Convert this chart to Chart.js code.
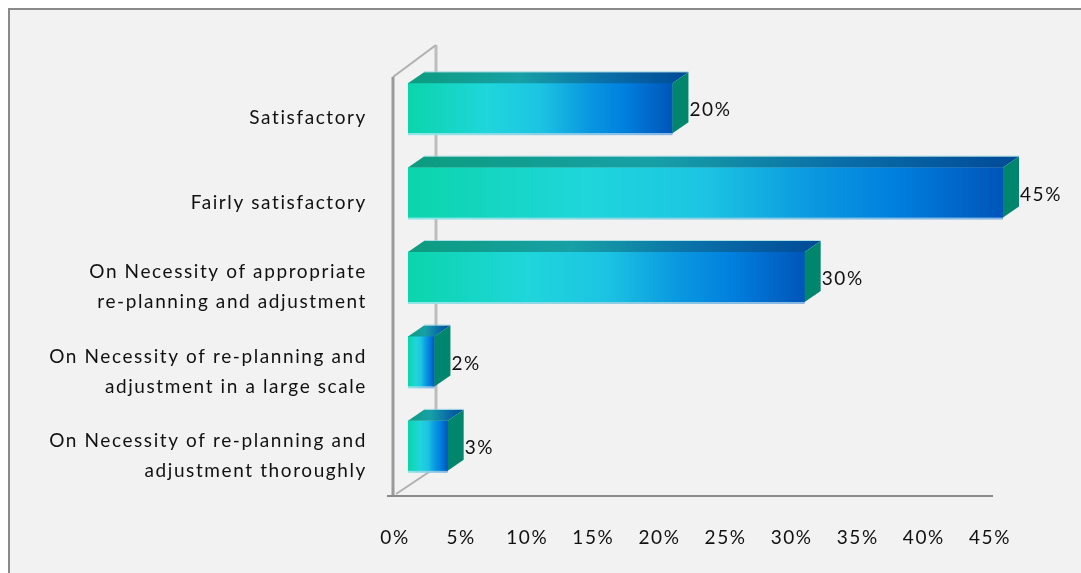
<!DOCTYPE html>
<html>
<head>
<meta charset="utf-8">
<script src="https://cdn.jsdelivr.net/npm/chart.js@4.4.1/dist/chart.umd.min.js"></script>
<style>
    html, body { margin: 0; padding: 0; background: #ffffff; }
    #wrap { position: relative; width: 1081px; height: 573px; }
</style>
</head>
<body>
<div id="wrap"><canvas id="chart"></canvas></div>
<script>
const categories = [
    'Satisfactory',
    'Fairly satisfactory',
    ['On Necessity of appropriate', 're-planning and adjustment'],
    ['On Necessity of re-planning and', 'adjustment in a large scale'],
    ['On Necessity of re-planning and', 'adjustment thoroughly']
];
const shares = [20, 45, 30, 2, 3];
const tickValues = [0, 5, 10, 15, 20, 25, 30, 35, 40, 45];

const FONT = 'Lato';
const SPACING = '1.6px';
const DEPTH_X = 16;
const DEPTH_Y = -11;

function frontGradient(ctx, x0, x1) {
    const g = ctx.createLinearGradient(x0, 0, x1, 0);
    g.addColorStop(0, '#0bd5ab');
    g.addColorStop(0.3, '#1fd6db');
    g.addColorStop(0.5, '#1cc4e2');
    g.addColorStop(0.68, '#0a98e0');
    g.addColorStop(0.82, '#007fde');
    g.addColorStop(1, '#0055b9');
    return g;
}

function topGradient(ctx, x0, x1) {
    const g = ctx.createLinearGradient(x0, 0, x1, 0);
    g.addColorStop(0, '#0c9c7f');
    g.addColorStop(0.4, '#17a0a6');
    g.addColorStop(0.7, '#0a6fa8');
    g.addColorStop(1, '#004a97');
    return g;
}

// back wall, floor and the frame lines of the 3d box
const framePlugin = {
    id: 'frame',
    beforeDraw(chart) {
        const ctx = chart.ctx;
        ctx.letterSpacing = SPACING;
        ctx.save();
        ctx.fillStyle = '#ffffff';
        ctx.fillRect(0, 0, chart.width, chart.height);
        ctx.fillStyle = '#f2f2f2';
        ctx.fillRect(10, 10, chart.width, chart.height);
        ctx.strokeStyle = '#8a8a8a';
        ctx.lineWidth = 2;
        ctx.beginPath();
        ctx.moveTo(9, chart.height + 5);
        ctx.lineTo(9, 9);
        ctx.lineTo(chart.width + 5, 9);
        ctx.stroke();
        ctx.restore();
    },
    beforeDatasetsDraw(chart) {
        const ctx = chart.ctx;
        const a = chart.chartArea;
        const fx = a.left - 15, bx = a.left + 28;
        const fTop = a.top + 11, bTop = a.top - 21;
        const floorY = a.bottom + 8, bBottom = a.bottom - 18;
        ctx.save();
        ctx.lineCap = 'butt';
        // back wall edge
        ctx.strokeStyle = '#bdbdbd';
        ctx.lineWidth = 3;
        ctx.beginPath();
        ctx.moveTo(bx, bTop);
        ctx.lineTo(bx, bBottom);
        ctx.stroke();
        // diagonals
        ctx.strokeStyle = '#b0b0b0';
        ctx.lineWidth = 2;
        ctx.beginPath();
        ctx.moveTo(fx, fTop);
        ctx.lineTo(bx, bTop);
        ctx.moveTo(fx + 3, floorY - 2);
        ctx.lineTo(bx - 4, bBottom);
        ctx.stroke();
        // front wall edge and floor
        ctx.strokeStyle = '#9a9a9a';
        ctx.lineWidth = 3;
        ctx.beginPath();
        ctx.moveTo(fx, fTop);
        ctx.lineTo(fx, floorY);
        ctx.stroke();
        ctx.strokeStyle = '#8a8a8a';
        ctx.lineWidth = 2;
        ctx.beginPath();
        ctx.moveTo(fx - 6, floorY);
        ctx.lineTo(a.right - 10, floorY);
        ctx.stroke();
        ctx.restore();
    },
    afterDatasetsDraw(chart) {
        const ctx = chart.ctx;
        const meta = chart.getDatasetMeta(0);
        ctx.save();
        meta.data.forEach((bar, i) => {
            const p = bar.getProps(['x', 'y', 'base', 'height'], true);
            const x0 = p.base, x1 = p.x;
            const yTop = p.y - p.height / 2, yBot = p.y + p.height / 2;

            // top face
            ctx.fillStyle = topGradient(ctx, x0, x1 + DEPTH_X);
            ctx.beginPath();
            ctx.moveTo(x0, yTop);
            ctx.lineTo(x1, yTop);
            ctx.lineTo(x1 + DEPTH_X, yTop + DEPTH_Y);
            ctx.lineTo(x0 + DEPTH_X, yTop + DEPTH_Y);
            ctx.closePath();
            ctx.fill();
            ctx.fillStyle = 'rgba(150,215,225,0.7)';
            ctx.fillRect(x0 + DEPTH_X, yTop + DEPTH_Y - 1, x1 - x0, 1);

            // side face
            ctx.fillStyle = '#00866d';
            ctx.beginPath();
            ctx.moveTo(x1, yTop);
            ctx.lineTo(x1 + DEPTH_X, yTop + DEPTH_Y);
            ctx.lineTo(x1 + DEPTH_X, yBot + DEPTH_Y);
            ctx.lineTo(x1, yBot);
            ctx.closePath();
            ctx.fill();

            // light rim under the front face
            const rim = ctx.createLinearGradient(x0, 0, x1, 0);
            rim.addColorStop(0, '#8fe8e6');
            rim.addColorStop(1, '#86b6e4');
            ctx.fillStyle = rim;
            ctx.fillRect(x0, yBot, x1 - x0, 2);

            // value label
            ctx.fillStyle = '#111111';
            ctx.font = '19px ' + FONT;
            ctx.textAlign = 'left';
            ctx.textBaseline = 'middle';
            ctx.fillText(shares[i] + '%', x1 + DEPTH_X + 1, p.y + 2);
        });
        ctx.restore();
    }
};

new Chart(document.getElementById('chart'), {
    type: 'bar',
    data: {
        labels: categories,
        datasets: [{
            data: shares,
            barThickness: 50,
            borderWidth: 0,
            backgroundColor(c) {
                const chart = c.chart;
                if (!chart.chartArea) return '#1cc4e2';
                const xs = chart.scales.x;
                return frontGradient(chart.ctx, xs.getPixelForValue(0), xs.getPixelForValue(shares[c.dataIndex]));
            }
        }]
    },
    options: {
        indexAxis: 'y',
        responsive: true,
        maintainAspectRatio: false,
        animation: false,
        layout: { padding: { top: 66, right: 78, left: 0, bottom: 0 } },
        plugins: {
            legend: { display: false },
            tooltip: { enabled: false }
        },
        scales: {
            x: {
                min: 0,
                max: 45,
                afterFit(s) { s.height = 85; },
                afterBuildTicks(s) { s.ticks = tickValues.map(v => ({ value: v })); },
                grid: { display: false, drawTicks: false },
                border: { display: false },
                ticks: {
                    padding: 38,
                    labelOffset: -13,
                    maxRotation: 0,
                    color: '#111111',
                    font: { family: FONT, size: 19 },
                    callback: v => v + '%'
                }
            },
            y: {
                afterFit(s) {
                    s.width = 408;
                    s.paddingTop = 0;
                    s.paddingBottom = 0;
                },
                grid: { display: false, drawTicks: false },
                border: { display: false },
                ticks: {
                    padding: 41,
                    labelOffset: 10,
                    color: '#111111',
                    font: { family: FONT, size: 19, lineHeight: '30px' }
                }
            }
        }
    },
    plugins: [framePlugin]
});
</script>
</body>
</html>
